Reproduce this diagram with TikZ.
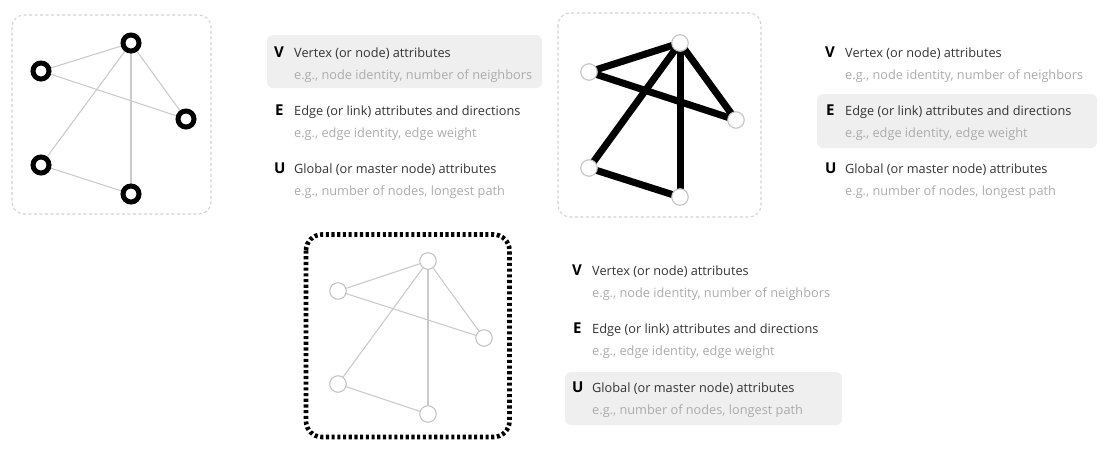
\documentclass[tikz,border=0pt]{standalone}
\usepackage{fontspec}
\setmainfont{Open Sans}
\definecolor{maintext}{HTML}{333333}
\definecolor{subtext}{HTML}{ABABAB}
\definecolor{hl}{HTML}{EFEFEF}
\definecolor{edgegray}{HTML}{CACACA}
\definecolor{framegray}{HTML}{D3D3D3}
\definecolor{ringgray}{HTML}{C4C4C4}
\pgfdeclarelayer{bg}
\pgfsetlayers{bg,main}
\begin{document}
\begin{tikzpicture}[x=1pt,y=-1pt,
  ringnode/.style={circle,draw=black,line width=5pt,fill=white,minimum size=16pt,inner sep=0},
  plainnode/.style={circle,draw=ringgray,line width=1.1pt,fill=white,minimum size=16.5pt,inner sep=0},
  thinedge/.style={draw=edgegray,line width=1.1pt},
  thickedge/.style={draw=black,line width=7pt},
  softframe/.style={draw=framegray,line width=1.1pt,dash pattern=on 3pt off 2.5pt,rounded corners=12pt},
  heavyframe/.style={draw=black,line width=4.6pt,dash pattern=on 3.1pt off 2.6pt,rounded corners=16pt},
  hlbox/.style={fill=hl,rounded corners=6pt},
  letter/.style={anchor=base west,inner sep=0,font=\fontsize{15}{17}\selectfont\bfseries,text=black},
  maintxt/.style={anchor=base west,inner sep=0,font=\fontsize{12.75}{15}\selectfont,text=maintext},
  subtxt/.style={anchor=base west,inner sep=0,font=\fontsize{12.75}{15}\selectfont,text=subtext}
]
\useasboundingbox (0,0) rectangle (1105,448);

% ---------- Panel 1: vertices highlighted ----------
\draw[softframe] (12,15) rectangle (211,214);
\node[ringnode] (a1) at (131,43) {};
\node[ringnode] (b1) at (41,71) {};
\node[ringnode] (c1) at (186,119) {};
\node[ringnode] (d1) at (41,165) {};
\node[ringnode] (e1) at (131,194) {};
\begin{pgfonlayer}{bg}
\draw[thinedge] (b1.center) -- (a1.center);
\draw[thinedge] (b1.center) -- (c1.center);
\draw[thinedge] (a1.center) -- (c1.center);
\draw[thinedge] (a1.center) -- (d1.center);
\draw[thinedge] (a1.center) -- (e1.center);
\draw[thinedge] (d1.center) -- (e1.center);
\end{pgfonlayer}

\fill[hlbox] (267,35) rectangle (542,88);
\node[letter] (p1V) at (274,57) {V};
\node[maintxt] (p1Vt) at (294,57) {Vertex (or node) attributes};
\node[subtxt] (p1Vs) at (294,79) {e.g., node identity, number of neighbors};
\node[letter] (p1E) at (275,115) {E};
\node[maintxt] (p1Et) at (294,115) {Edge (or link) attributes and directions};
\node[subtxt] (p1Es) at (294,137) {e.g., edge identity, edge weight};
\node[letter] (p1U) at (274,173) {U};
\node[maintxt] (p1Ut) at (294,173) {Global (or master node) attributes};
\node[subtxt] (p1Us) at (294,195) {e.g., number of nodes, longest path};

% ---------- Panel 2: edges highlighted ----------
\draw[softframe] (558,13) rectangle (761,217);
\node[plainnode] (a2) at (680,43) {};
\node[plainnode] (b2) at (589,72) {};
\node[plainnode] (c2) at (736,120) {};
\node[plainnode] (d2) at (589,168) {};
\node[plainnode] (e2) at (680,197) {};
\begin{pgfonlayer}{bg}
\draw[thickedge] (b2.center) -- (a2.center);
\draw[thickedge] (b2.center) -- (c2.center);
\draw[thickedge] (a2.center) -- (c2.center);
\draw[thickedge] (a2.center) -- (d2.center);
\draw[thickedge] (a2.center) -- (e2.center);
\draw[thickedge] (d2.center) -- (e2.center);
\end{pgfonlayer}

\fill[hlbox] (817,94) rectangle (1097,148);
\node[letter] (p2V) at (825,57) {V};
\node[maintxt] (p2Vt) at (845,57) {Vertex (or node) attributes};
\node[subtxt] (p2Vs) at (845,79) {e.g., node identity, number of neighbors};
\node[letter] (p2E) at (826,115) {E};
\node[maintxt] (p2Et) at (845,115) {Edge (or link) attributes and directions};
\node[subtxt] (p2Es) at (845,137) {e.g., edge identity, edge weight};
\node[letter] (p2U) at (825,173) {U};
\node[maintxt] (p2Ut) at (845,173) {Global (or master node) attributes};
\node[subtxt] (p2Us) at (845,195) {e.g., number of nodes, longest path};

% ---------- Panel 3: global highlighted ----------
\draw[heavyframe] (306,234.5) rectangle (509.5,437);
\node[plainnode] (a3) at (428,261) {};
\node[plainnode] (b3) at (338,291) {};
\node[plainnode] (c3) at (484,338) {};
\node[plainnode] (d3) at (338,384) {};
\node[plainnode] (e3) at (428,414) {};
\begin{pgfonlayer}{bg}
\draw[thinedge] (b3.center) -- (a3.center);
\draw[thinedge] (b3.center) -- (c3.center);
\draw[thinedge] (a3.center) -- (c3.center);
\draw[thinedge] (a3.center) -- (d3.center);
\draw[thinedge] (a3.center) -- (e3.center);
\draw[thinedge] (d3.center) -- (e3.center);
\end{pgfonlayer}

\fill[hlbox] (565,372) rectangle (842,425);
\node[letter] (p3V) at (572,275) {V};
\node[maintxt] (p3Vt) at (592,275) {Vertex (or node) attributes};
\node[subtxt] (p3Vs) at (592,297) {e.g., node identity, number of neighbors};
\node[letter] (p3E) at (573,333) {E};
\node[maintxt] (p3Et) at (592,333) {Edge (or link) attributes and directions};
\node[subtxt] (p3Es) at (592,355) {e.g., edge identity, edge weight};
\node[letter] (p3U) at (572,392) {U};
\node[maintxt] (p3Ut) at (592,392) {Global (or master node) attributes};
\node[subtxt] (p3Us) at (592,414) {e.g., number of nodes, longest path};
\end{tikzpicture}
\end{document}
